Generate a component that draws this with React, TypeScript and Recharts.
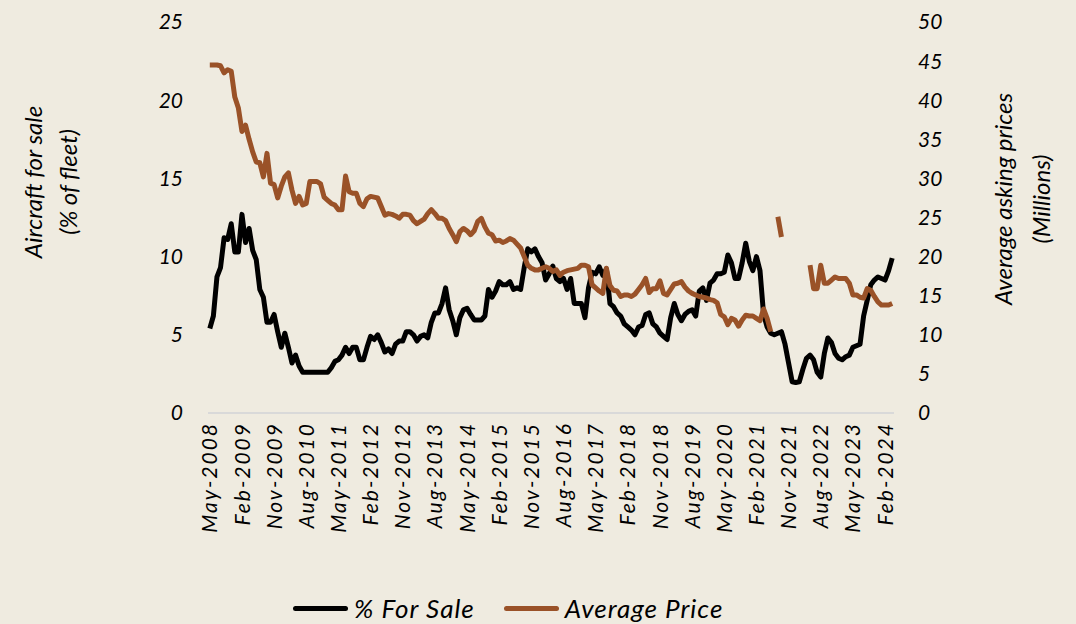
import { Line, LineChart, XAxis, YAxis } from 'recharts'

const MONTH_NAMES = ['Jan', 'Feb', 'Mar', 'Apr', 'May', 'Jun', 'Jul', 'Aug', 'Sep', 'Oct', 'Nov', 'Dec']
const START_YEAR = 2008
const START_MONTH = 4 // May

// % of fleet for sale, monthly from May-2008
const forSale = [
  5.4, 6.2, 8.7, 9.3, 11.2, 11.1, 12.1, 10.3, 10.3, 12.7, 10.9, 11.8, 10.4, 9.8, 7.9, 7.4, 5.8, 5.8, 6.3, 5.2,
  4.2, 5.1, 4.2, 3.2, 3.7, 3.0, 2.6, 2.6, 2.6, 2.6, 2.6, 2.6, 2.6, 2.6, 2.9, 3.3, 3.4, 3.7, 4.2, 3.8,
  4.2, 4.2, 3.4, 3.4, 4.2, 4.9, 4.7, 5.0, 4.5, 3.9, 4.1, 3.8, 4.4, 4.6, 4.6, 5.2, 5.2, 5.0, 4.6, 4.9,
  5.0, 4.8, 5.8, 6.4, 6.4, 7.0, 8.0, 6.6, 5.9, 5.0, 6.1, 6.6, 6.7, 6.3, 5.95, 5.95, 5.95, 6.2, 7.9, 7.4,
  7.8, 8.4, 8.2, 8.2, 8.4, 7.9, 8.0, 7.9, 9.3, 10.5, 10.3, 10.5, 10.0, 9.6, 8.5, 8.9, 9.4, 8.6, 8.4, 8.6,
  7.9, 8.6, 7.0, 7.0, 7.0, 6.1, 8.0, 9.0, 8.9, 9.35, 8.8, 9.2, 7.0, 6.8, 6.4, 6.2, 5.7, 5.5, 5.3, 5.0,
  5.5, 5.6, 6.3, 6.4, 5.7, 5.5, 5.1, 4.9, 4.7, 6.1, 7.0, 6.3, 5.9, 6.3, 6.5, 6.6, 6.2, 7.8, 8.0, 7.2,
  8.3, 8.5, 8.9, 8.9, 9.0, 10.1, 9.6, 8.6, 8.6, 9.6, 10.85, 9.7, 9.1, 10.0, 9.1, 6.3, 5.5, 5.1, 5.0, 5.1,
  5.2, 4.4, 3.2, 2.0, 1.95, 2.0, 2.8, 3.5, 3.7, 3.4, 2.6, 2.3, 3.8, 4.8, 4.5, 3.8, 3.5, 3.4, 3.6, 3.7,
  4.2, 4.3, 4.4, 6.2, 7.2, 8.2, 8.5, 8.7, 8.6, 8.5, 9.1, 9.9
]

// average asking price (millions), null where no data
const avgPrice = [
  44.5, 44.5, 44.5, 44.4, 43.5, 43.9, 43.7, 40.4, 39, 36, 36.8, 35, 33.4, 32.1, 32, 30.2, 33.2, 29.4, 29.2, 27.5,
  29, 30.2, 30.7, 28.5, 26.8, 27.7, 26.6, 26.8, 29.6, 29.6, 29.6, 29.3, 27.6, 27.2, 26.8, 26.6, 26.0, 26.0, 30.3, 28.3,
  28.1, 28.1, 26.8, 26.4, 27.4, 27.7, 27.6, 27.5, 26.4, 25.3, 25.5, 25.4, 25.2, 24.9, 25.4, 25.4, 25.3, 24.6, 24.2, 24.5,
  24.8, 25.5, 26.0, 25.5, 24.9, 24.9, 24.6, 23.6, 22.8, 21.9, 23.2, 23.6, 23.3, 22.8, 23.3, 24.5, 24.9, 23.8, 23.0, 22.8,
  22.0, 22.1, 21.8, 22.0, 22.3, 22.1, 21.6, 21.1, 20.0, 18.9, 18.5, 18.3, 18.3, 18.5, 18.7, 18.5, 18.1, 18.3, 17.6, 18.0,
  18.2, 18.3, 18.4, 18.5, 18.9, 18.9, 18.7, 16.4, 16.0, 15.6, 15.3, 18.5, 16.3, 15.7, 15.6, 14.9, 15.1, 15.1, 14.9, 15.2,
  15.8, 16.4, 17.2, 15.4, 15.9, 15.9, 16.9, 15.3, 15.1, 15.8, 16.5, 16.6, 16.8, 16.1, 15.6, 15.3, 15.1, 14.9, 14.8, 14.7,
  14.5, 14.4, 14.1, 12.6, 12.3, 11.3, 12.1, 11.9, 11.1, 11.9, 12.5, 12.4, 12.4, 12.1, 11.8, 13.3, 12.1, 10.4, null, 25.1,
  22.5, null, null, null, null, null, null, null, 18.9, 15.9, 15.9, 18.9, 16.6, 16.6, 17.0, 17.4, 17.2, 17.2, 17.2, 16.6,
  15.1, 15.1, 14.8, 14.7, 15.9, 15.7, 14.9, 14.2, 13.8, 13.8, 13.8, 14.0
]

const leftTicks = [0, 5, 10, 15, 20, 25]
const rightTicks = [0, 5, 10, 15, 20, 25, 30, 35, 40, 45, 50]
const TICK_EVERY = 9

const months = forSale.map((_, i) => {
  const m = START_MONTH + i
  return `${MONTH_NAMES[m % 12]}-${START_YEAR + Math.floor(m / 12)}`
})

const data = months.map((month, i) => ({
  month,
  forSale: forSale[i],
  avgPrice: avgPrice[i]
}))

const FONT = 'Lato, "DejaVu Sans", sans-serif'
const BG = '#EFEBE0'
const BROWN = '#9A5228'

function MonthTick({ x, y, payload }: any) {
  return (
    <text
      x={x}
      y={y}
      transform={`rotate(-90, ${x}, ${y})`}
      textAnchor="end"
      dy="0.36em"
      fill="#000"
      fontSize={21}
      fontStyle="italic"
      letterSpacing={2}
      fontFamily={FONT}>
      {payload.value}
    </text>
  )
}

function AxisTitle({ x, y, lines, gap }: { x: number; y: number; lines: string[]; gap: number }) {
  return (
    <text
      transform={`rotate(-90, ${x}, ${y})`}
      x={x}
      y={y}
      textAnchor="middle"
      fill="#000"
      fontSize={24}
      fontStyle="italic"
      fontFamily={FONT}>
      {lines.map((t, i) => (
        <tspan key={t} x={x} dy={i === 0 ? 0 : gap}>
          {t}
        </tspan>
      ))}
    </text>
  )
}

function LegendItem({ color, label }: { color: string; label: string }) {
  return (
    <div style={{ display: 'flex', alignItems: 'center', gap: 6 }}>
      <div style={{ width: 55, height: 5, borderRadius: 3, background: color }} />
      <span
        style={{
          fontSize: 26,
          fontStyle: 'italic',
          fontFamily: FONT,
          letterSpacing: 1,
          color: '#000'
        }}>
        {label}
      </span>
    </div>
  )
}

export default function App() {
  const tickStyle = { fill: '#000', fontSize: 21, fontStyle: 'italic', fontFamily: FONT }
  return (
    <div style={{ position: 'absolute', left: 0, top: 0, width: 1076, height: 624, background: BG }}>
      <LineChart width={1076} height={624} data={data} margin={{ top: 22, right: 0, bottom: 0, left: 0 }}>
        <XAxis
          dataKey="month"
          interval={TICK_EVERY - 1}
          height={211}
          padding={{ left: 1.8, right: 1.8 }}
          axisLine={{ stroke: '#D9D9D9', strokeWidth: 2 }}
          tickLine={false}
          tickSize={0}
          tickMargin={9}
          tick={<MonthTick />}
        />
        <YAxis
          yAxisId="left"
          domain={[0, 25]}
          ticks={leftTicks}
          width={208}
          axisLine={false}
          tickLine={false}
          tickSize={0}
          tickMargin={25}
          tick={tickStyle}
          label={{
            content: () => (
              <AxisTitle x={42} y={182} gap={35} lines={['Aircraft for sale', '(% of fleet)']} />
            )
          }}
        />
        <YAxis
          yAxisId="right"
          orientation="right"
          domain={[0, 50]}
          ticks={rightTicks}
          width={182}
          axisLine={false}
          tickLine={false}
          tickSize={0}
          tickMargin={24}
          tick={tickStyle}
          label={{
            content: () => (
              <AxisTitle x={1012} y={199} gap={38} lines={['Average asking prices', '(Millions)']} />
            )
          }}
        />
        <Line
          yAxisId="left"
          type="linear"
          dataKey="forSale"
          stroke="#000"
          strokeWidth={5}
          strokeLinejoin="round"
          dot={false}
          activeDot={false}
          isAnimationActive={false}
        />
        <Line
          yAxisId="right"
          type="linear"
          dataKey="avgPrice"
          stroke={BROWN}
          strokeWidth={5}
          strokeLinejoin="round"
          dot={false}
          activeDot={false}
          isAnimationActive={false}
        />
      </LineChart>
      <div
        style={{
          position: 'absolute',
          left: 293,
          top: 592,
          display: 'flex',
          gap: 29,
          alignItems: 'center'
        }}>
        <LegendItem color="#000" label="% For Sale" />
        <LegendItem color={BROWN} label="Average Price" />
      </div>
    </div>
  )
}
